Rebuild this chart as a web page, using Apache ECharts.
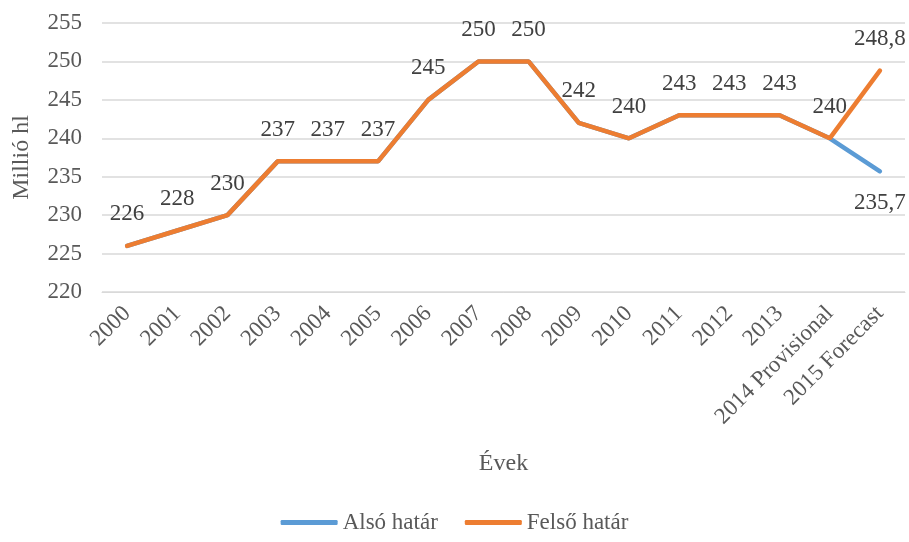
<!DOCTYPE html>
<html lang="hu">

<head>
  <meta charset="UTF-8">
  <title>Millió hl</title>
  <style>
    body { margin: 0; }
  </style>
</head>

<body>
  <div id="main" style="width: 909px;height: 542px;"></div>
</body>
<script src="https://cdn.jsdelivr.net/npm/echarts@6/dist/echarts.min.js"></script>
<script>
  var years = ['2000', '2001', '2002', '2003', '2004', '2005', '2006', '2007', '2008',
    '2009', '2010', '2011', '2012', '2013', '2014 Provisional', '2015 Forecast'];
  var also = [226, 228, 230, 237, 237, 237, 245, 250, 250, 242, 240, 243, 243, 243, 240, 235.7];
  var felso = [226, 228, 230, 237, 237, 237, 245, 250, 250, 242, 240, 243, 243, 243, 240, 248.8];

  var font = 'Liberation Serif, Times New Roman, serif';
  var txt = '#595959';

  function comma(p) {
    return String(p.value).replace('.', ',');
  }

  var myChart = echarts.init(document.getElementById('main'));
  var option = {
    textStyle: { fontFamily: font },
    grid: { left: 102, right: 4, top: 23, bottom: 250, outerBoundsMode: 'none' },
    legend: {
      bottom: 3,
      left: 'center',
      icon: 'roundRect',
      itemWidth: 57,
      itemHeight: 5,
      itemGap: 27,
      textStyle: { fontFamily: font, fontSize: 23, color: txt },
      data: ['Alsó határ', 'Felső határ']
    },
    xAxis: {
      type: 'category',
      data: years,
      name: 'Évek',
      nameLocation: 'middle',
      nameGap: 160,
      nameTextStyle: { fontFamily: font, fontSize: 24, color: txt },
      axisLine: { lineStyle: { color: '#d9d9d9' } },
      axisTick: { show: false },
      axisLabel: { rotate: 45, interval: 0, fontFamily: font, fontSize: 23, color: txt, margin: 18 }
    },
    yAxis: {
      type: 'value',
      min: 220,
      max: 255,
      interval: 5,
      name: 'Millió hl',
      nameLocation: 'middle',
      nameGap: 68,
      nameTextStyle: { fontFamily: font, fontSize: 24, color: txt },
      axisLine: { show: false },
      axisTick: { show: false },
      splitLine: { lineStyle: { color: '#d9d9d9', width: 1.5 } },
      axisLabel: { fontFamily: font, fontSize: 23, color: txt, margin: 20 }
    },
    series: [
      {
        name: 'Alsó határ',
        type: 'line',
        data: also,
        symbol: 'circle',
        symbolSize: 0.1,
        color: '#5B9BD5',
        lineStyle: { width: 4.5, cap: 'round' },
        label: {
          show: true,
          position: 'bottom',
          distance: 20,
          fontFamily: font,
          fontSize: 23,
          color: '#404040',
          formatter: function (p) {
            return p.dataIndex === also.length - 1 ? comma(p) : '';
          }
        }
      },
      {
        name: 'Felső határ',
        type: 'line',
        data: felso,
        symbol: 'circle',
        symbolSize: 0.1,
        color: '#ED7D31',
        lineStyle: { width: 4.5, cap: 'round' },
        label: {
          show: true,
          position: 'top',
          distance: 20,
          fontFamily: font,
          fontSize: 23,
          color: '#404040',
          formatter: comma
        }
      }
    ]
  };
  myChart.setOption(option);
</script>

</html>
